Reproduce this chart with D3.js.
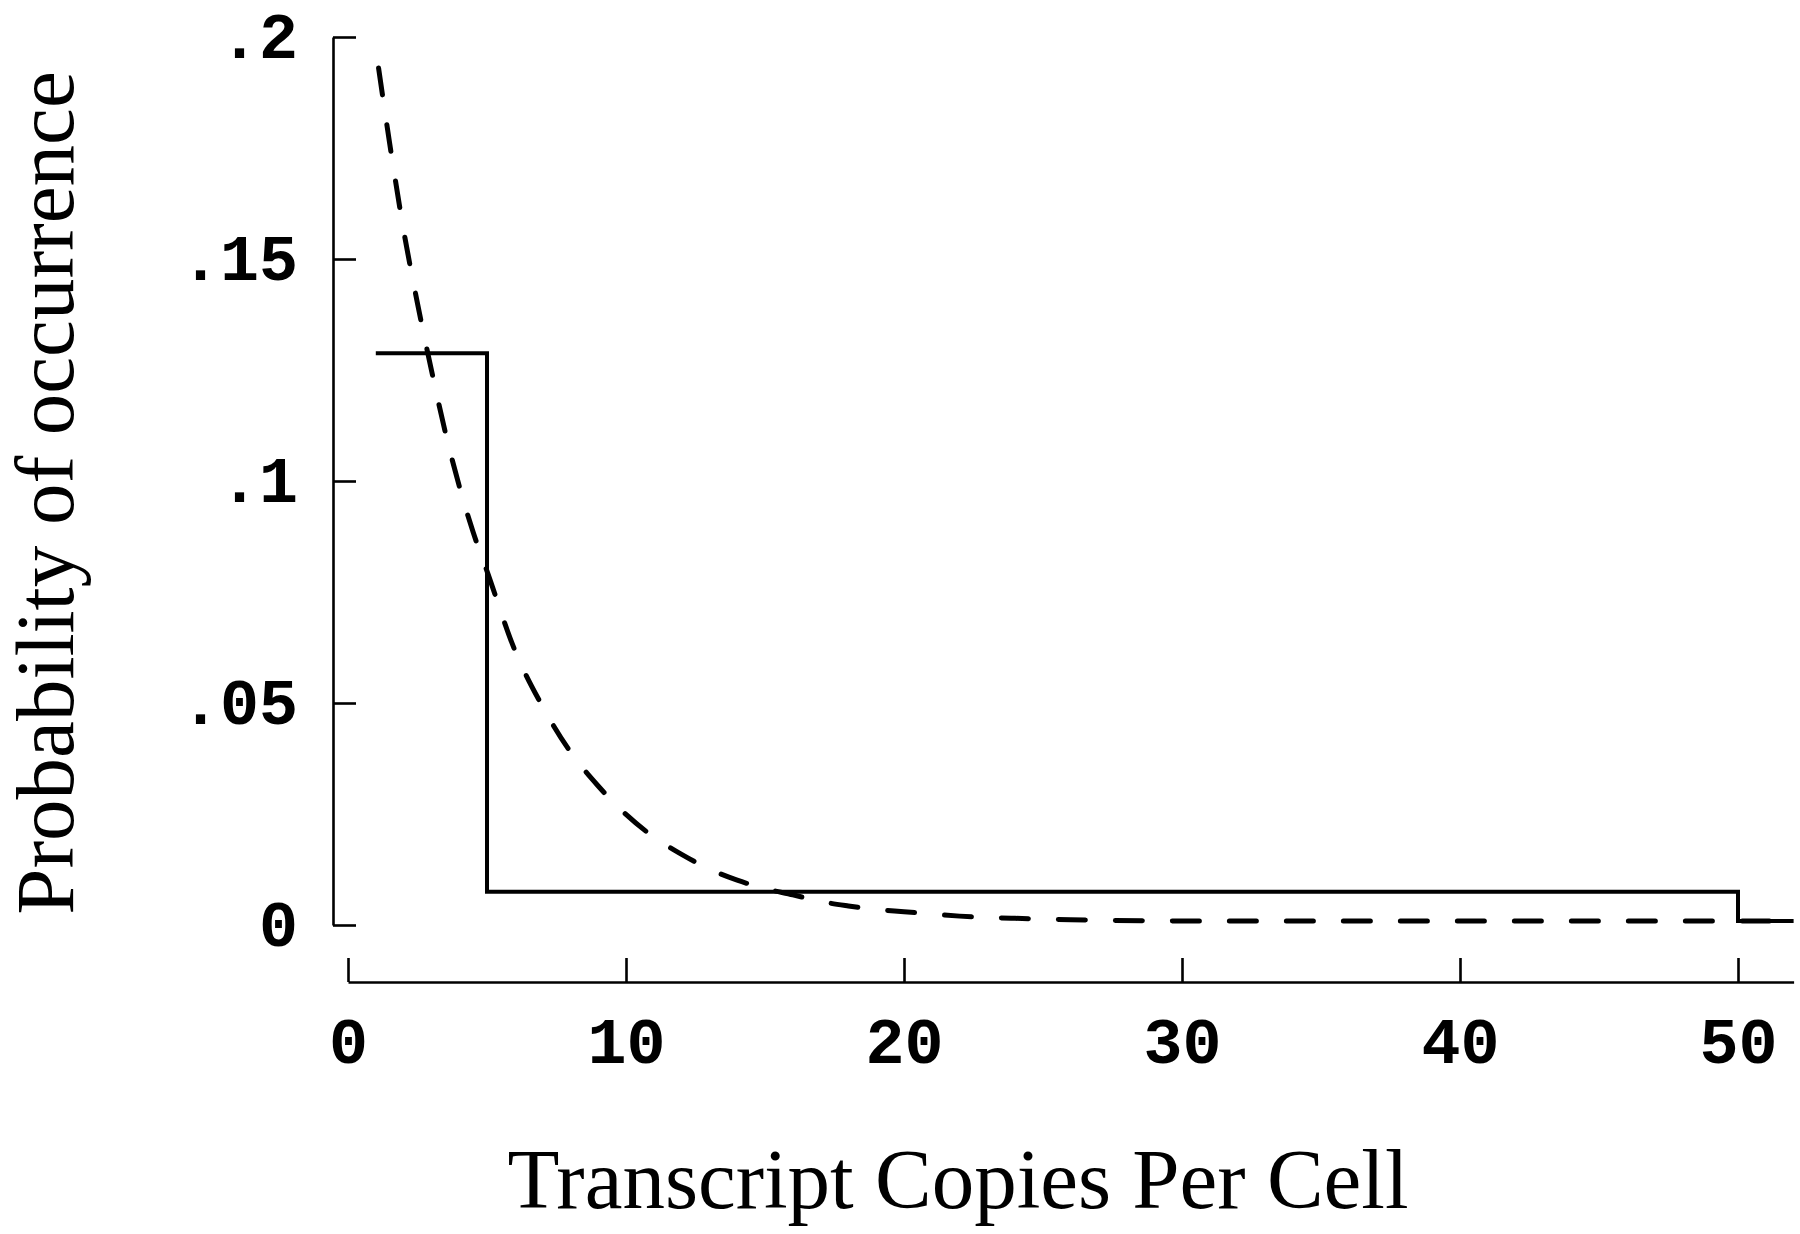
<!DOCTYPE html>
<html>
<head>
<meta charset="utf-8">
<script src="https://cdn.jsdelivr.net/npm/d3@7"></script>
<style>
    body { margin: 0; background: #fff; }
    svg { display: block; }
</style>
</head>
<body>
<div id="chart"></div>
<script>
// measured step histogram (bin edges / heights)
const stepCopies = [1, 5, 50, 52];
const stepProb = [0.1288, 0.0075, 0.0009, 0.0009];

// dashed fitted curve
const fitCopies = [1.1, 1.5, 2, 2.5, 3, 3.5, 4, 4.5, 5, 6, 7, 8, 9, 10, 11, 12, 13, 14,
    15, 16, 17, 18, 19, 20, 22, 24, 26, 30, 40, 52];
const fitProb = [0.193, 0.176, 0.1565, 0.140, 0.125, 0.111, 0.0989, 0.0885, 0.0797, 0.0619,
    0.0492, 0.0390, 0.0313, 0.0249, 0.0198, 0.0159, 0.0126, 0.0101, 0.0082, 0.0068, 0.0053,
    0.0043, 0.0035, 0.0030, 0.0020, 0.0015, 0.0012, 0.0009, 0.0009, 0.0009];

const xTicks = [0, 10, 20, 30, 40, 50];
const yTicks = [0, 0.05, 0.1, 0.15, 0.2];
const yTickLabels = ['0', '.05', '.1', '.15', '.2'];

const chartWidth = 1800;
const chartHeight = 1234;

const xScale = d3.scaleLinear()
    .domain([0, 52])
    .range([348, 348 + 52 * 27.8]);

const yScale = d3.scaleLinear()
    .domain([0, 0.2])
    .range([925, 37]);

const svg = d3.select('#chart')
    .append('svg')
    .attr('width', chartWidth)
    .attr('height', chartHeight);

// y axis, ticks pointing inward
svg.append('g')
    .attr('transform', 'translate(333,0)')
    .call(d3.axisLeft(yScale)
        .tickValues(yTicks)
        .tickFormat((d, i) => yTickLabels[i])
        .tickSize(-23)
        .tickSizeOuter(0)
        .tickPadding(35));

// x axis, ticks pointing up
svg.append('g')
    .attr('transform', 'translate(0,982)')
    .call(d3.axisBottom(xScale)
        .tickValues(xTicks)
        .tickFormat(d3.format('d'))
        .tickSize(-24)
        .tickSizeOuter(0)
        .tickPadding(35));

svg.selectAll('.domain, .tick line')
    .attr('stroke', '#000')
    .attr('stroke-width', 2.6);

svg.selectAll('.tick text')
    .attr('fill', '#000')
    .style('font-family', '"Liberation Mono", "DejaVu Sans Mono", monospace')
    .style('font-weight', 'bold')
    .style('font-size', '65px');

const stepData = stepCopies.map((c, i) => ({c: c, p: stepProb[i]}));
const fitData = fitCopies.map((c, i) => ({c: c, p: fitProb[i]}));

const stepLine = d3.line()
    .x(d => xScale(d.c))
    .y(d => yScale(d.p))
    .curve(d3.curveStepAfter);

const fitLine = d3.line()
    .x(d => xScale(d.c))
    .y(d => yScale(d.p))
    .curve(d3.curveMonotoneX);

svg.append('path')
    .datum(stepData)
    .attr('d', stepLine)
    .attr('fill', 'none')
    .attr('stroke', '#000')
    .attr('stroke-width', 4);

svg.append('path')
    .datum(fitData)
    .attr('d', fitLine)
    .attr('fill', 'none')
    .attr('stroke', '#000')
    .attr('stroke-width', 5)
    .attr('stroke-linecap', 'round')
    .attr('stroke-dasharray', '27,30');

// axis titles
svg.append('text')
    .text('Transcript Copies Per Cell')
    .attr('x', 958)
    .attr('y', 1208)
    .attr('text-anchor', 'middle')
    .style('font-family', '"Liberation Serif", "DejaVu Serif", serif')
    .style('font-size', '85px');

svg.append('text')
    .text('Probability of occurrence')
    .attr('transform', 'translate(73,493) rotate(-90)')
    .attr('text-anchor', 'middle')
    .style('font-family', '"Liberation Serif", "DejaVu Serif", serif')
    .style('font-size', '83px');
</script>
</body>
</html>
